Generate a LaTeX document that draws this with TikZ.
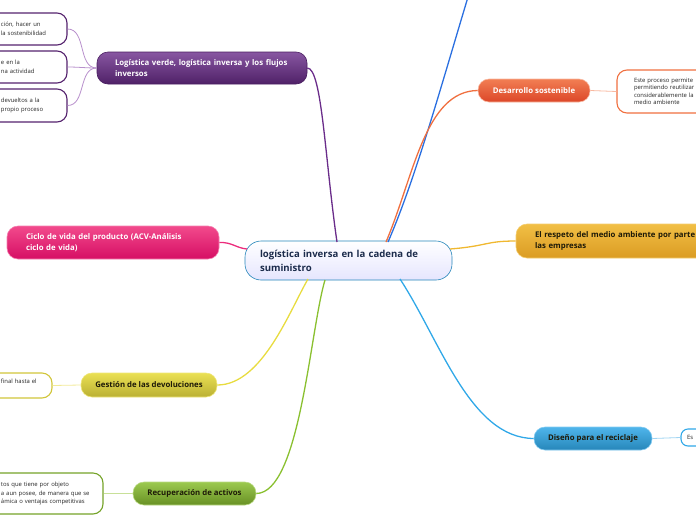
\documentclass[tikz,border=0pt]{standalone}
\usepackage{fontspec}
\setmainfont{Open Sans}
\definecolor{navy}{HTML}{1B2B4B}
\definecolor{darktxt}{HTML}{1E1A08}
\definecolor{cpurple}{HTML}{6A2C8A}
\definecolor{lpurple}{HTML}{B890CC}
\definecolor{corange}{HTML}{F07040}
\definecolor{lorange}{HTML}{F8B8A0}
\definecolor{ctopblue}{HTML}{2A6FE0}
\definecolor{cgold}{HTML}{F0B830}
\definecolor{cpink}{HTML}{EC2C7C}
\definecolor{pinktop}{HTML}{F24A8C}
\definecolor{pinkbot}{HTML}{D60E64}
\definecolor{cyellow}{HTML}{E8DC40}
\definecolor{lyellow}{HTML}{F2EA98}
\definecolor{cgreen}{HTML}{8AC030}
\definecolor{lgreen}{HTML}{C8E098}
\definecolor{cblue}{HTML}{30A8E8}
\definecolor{lblue}{HTML}{A0D4F2}
\tikzset{
  topicbox/.style={draw, rounded corners=11pt, line width=0.6pt, inner ysep=0pt,
    font=\bfseries\fontsize{7.8}{11}\selectfont},
  leafbox/.style={draw, fill=white, rounded corners=10pt, line width=1.1pt, inner ysep=0pt,
    align=left, font=\fontsize{5.9}{8.7}\selectfont, text=black!85},
  mainline/.style={line width=1.3pt},
  leafline/.style={line width=0.8pt}
}
\begin{document}
\begin{tikzpicture}[x=1pt,y=-1pt]
\useasboundingbox (0,0) rectangle (696,520);
\clip (0,0) rectangle (696,520);

% central topic
\node[topicbox, top color=white, bottom color=black!4!blue!10!white, draw=cblue!80!black,
  rounded corners=16pt, minimum width=207pt, minimum height=39pt, inner xsep=15pt,
  text width=177pt, align=left, text=navy, font=\bfseries\fontsize{9.6}{14}\selectfont]
  (c) at (348.5,260.5) {logística inversa en la cadena de\\suministro};

% attachment points on the central topic
\coordinate (cp) at (337,242);
\coordinate (cb) at (388,242);
\coordinate (co) at (386,242);
\coordinate (cgo) at (450,249);
\coordinate (ck) at (247,249);
\coordinate (cy) at (308,279);
\coordinate (cg) at (325,280);
\coordinate (cbl) at (400,279);
\coordinate (tp) at (468,-3);

% main topics
\node[topicbox, top color=cpurple!80!white, bottom color=cpurple!75!black, draw=cpurple!70!black,
  minimum width=210pt, minimum height=32pt, inner xsep=18pt, text width=174pt, align=left, text=white]
  (p) at (202,68) {Logística verde, logística inversa y los flujos\\inversos};
\node[topicbox, top color=corange!90!white, bottom color=corange!70!red!90!black, draw=lorange,
  minimum width=112pt, minimum height=23pt, align=center, text=white]
  (d) at (534,90.5) {Desarrollo sostenible};
\node[topicbox, top color=cgold!90!white, bottom color=cgold!80!orange!90!black, draw=cgold!70!white,
  minimum width=204pt, minimum height=34pt, inner xsep=19pt, text width=166pt, align=left, text=darktxt]
  (r) at (618,241) {El respeto del medio ambiente por parte\\las empresas};
\node[topicbox, top color=pinktop, bottom color=pinkbot, draw=cpink!60!white,
  minimum width=212pt, minimum height=33pt, inner xsep=19pt, text width=174pt, align=left, text=white]
  (k) at (113,242.5) {Ciclo de vida del producto (ACV-Análisis\\ciclo de vida)};
\node[topicbox, top color=cyellow!90!white, bottom color=cyellow!80!black, draw=cyellow!70!white,
  minimum width=136pt, minimum height=24pt, align=center, text=darktxt]
  (g) at (149,385) {Gestión de las devoluciones};
\node[topicbox, top color=cgreen!85!white, bottom color=cgreen!75!black, draw=cgreen!60!white,
  minimum width=123pt, minimum height=23pt, align=center, text=darktxt]
  (rc) at (194.5,493.5) {Recuperación de activos};
\node[topicbox, top color=cblue!85!white, bottom color=cblue!80!black, draw=cblue!60!white,
  minimum width=118pt, minimum height=23pt, align=center, text=darktxt]
  (ds) at (593,438.5) {Diseño para el reciclaje};

% leaves
\node[leafbox, draw=cpurple!80!black, minimum width=77pt, minimum height=32pt, inner xsep=11pt, text width=55pt]
  (p1) at (28.5,29) {ción, hacer un\\la sostenibilidad};
\node[leafbox, draw=cpurple!80!black, minimum width=77pt, minimum height=32pt, inner xsep=11pt, text width=55pt]
  (p2) at (28.5,67) {e en la\\na actividad};
\node[leafbox, draw=cpurple!80!black, minimum width=77pt, minimum height=33pt, inner xsep=11pt, text width=55pt]
  (p3) at (28.5,105.5) {devueltos a la\\propio proceso};
\node[leafbox, draw=corange, minimum width=123pt, minimum height=43pt, inner xsep=17pt, text width=89pt,
  font=\fontsize{5.9}{7.4}\selectfont]
  (d1) at (678.5,91.5) {Este proceso permite\\permitiendo reutilizar\\considerablemente la\\medio ambiente};
\node[leafbox, draw=cyellow!90!black, minimum width=62pt, minimum height=25pt, inner xsep=11pt, text width=40pt]
  (g1) at (21,385.5) {final hasta el\\\mbox{}};
\node[leafbox, draw=cgreen!85!black, minimum width=113pt, minimum height=41pt, inner xsep=11pt, text width=91pt]
  (rc1) at (46.5,493.5) {tos que tiene por objeto\\a aun posee, de manera que se\\ámica o ventajas competitivas};
\node[leafbox, draw=cblue, rounded corners=7pt, minimum width=59pt, minimum height=17pt, inner xsep=6pt, text width=47pt]
  (ds1) at (710.5,437.5) {Es};

% main connectors
\draw[mainline, cpurple] (p.east) .. controls (322,68) and (325,160) .. (cp);
\draw[mainline, ctopblue] (cb) .. controls (415,180) and (440,90) .. (tp);
\draw[mainline, corange] (co) .. controls (414,176) and (425,91) .. (d.west);
\draw[mainline, cgold] (cgo) .. controls (488,246) and (485,241) .. (r.west);
\draw[mainline, cpink] (k.east) .. controls (232,242) and (236,248) .. (ck);
\draw[mainline, cyellow] (g.east) .. controls (262,385) and (290,310) .. (cy);
\draw[mainline, cgreen] (rc.east) .. controls (300,493) and (310,330) .. (cg);
\draw[mainline, cblue] (cbl) .. controls (440,340) and (470,438) .. (ds.west);

% leaf connectors
\draw[leafline, lpurple] (p.west) to[out=180,in=0] (p1.east);
\draw[leafline, lpurple] (p.west) to[out=180,in=0] (p2.east);
\draw[leafline, lpurple] (p.west) to[out=180,in=0] (p3.east);
\draw[leafline, lorange] (d.east) -- (d1.west);
\draw[leafline, lyellow] (g.west) -- (g1.east);
\draw[leafline, lgreen] (rc.west) -- (rc1.east);
\draw[leafline, lblue] (ds.east) -- (ds1.west);
\end{tikzpicture}
\end{document}
